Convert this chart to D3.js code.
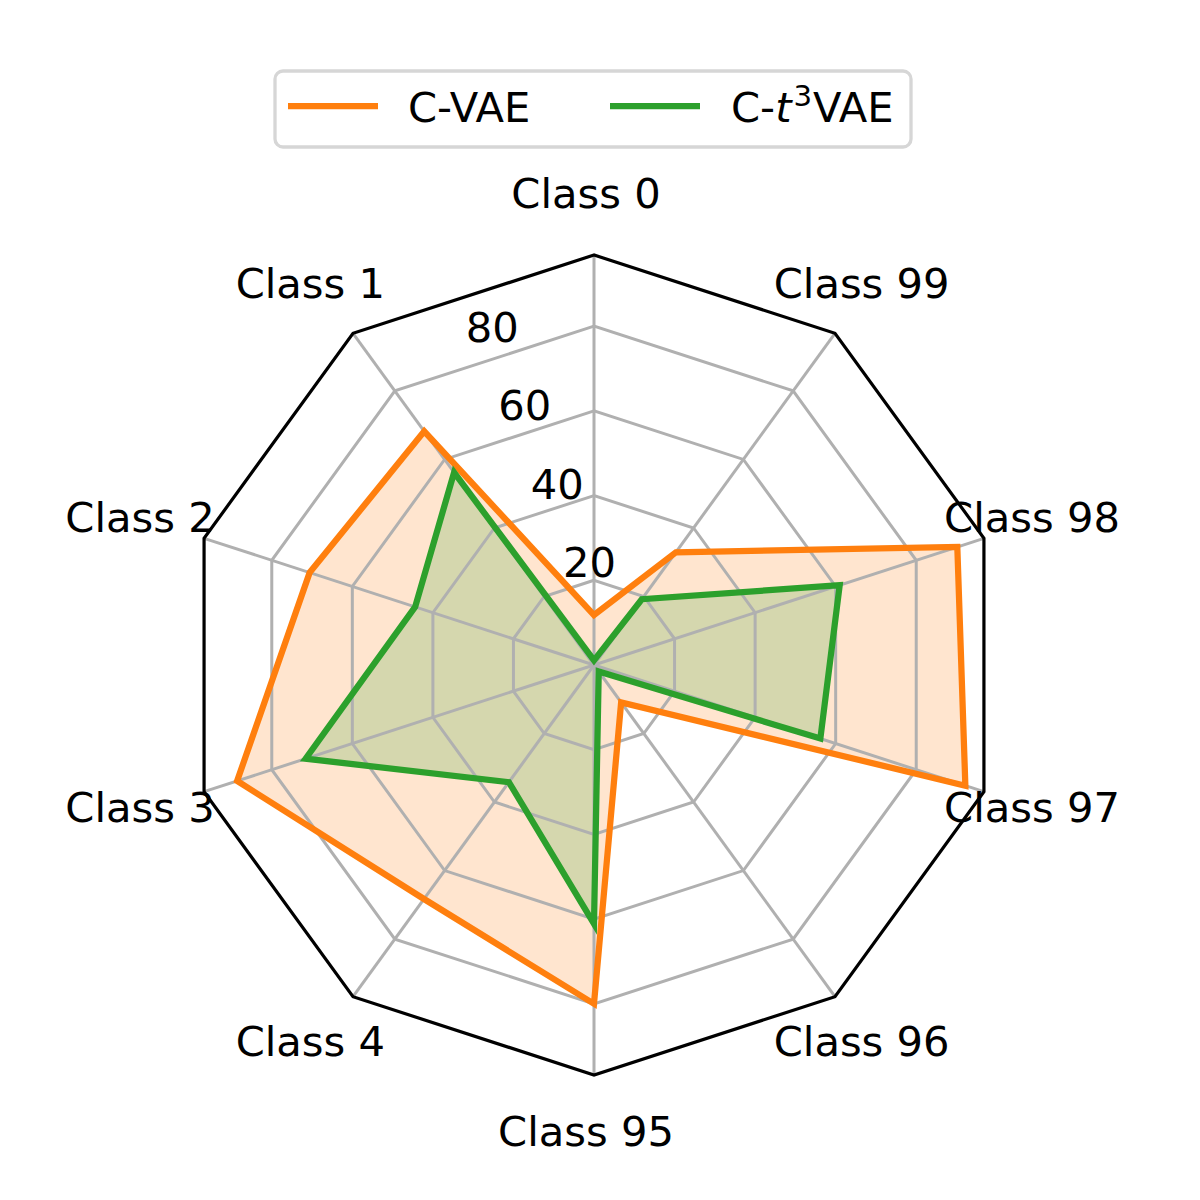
<!DOCTYPE html>
<html>
<head>
<meta charset="utf-8">
<script src="https://cdn.jsdelivr.net/npm/d3@7"></script>
<style>
  html, body { margin: 0; padding: 0; background: #fff; }
  svg { display: block; }
  text { font-family: "DejaVu Sans", sans-serif; fill: #000; }
</style>
</head>
<body>
<svg id="chart" width="1200" height="1200"></svg>
<script>
// ---- data ----
const categories = ["Class 0", "Class 1", "Class 2", "Class 3", "Class 4",
                    "Class 95", "Class 96", "Class 97", "Class 98", "Class 99"];
const cvae   = [11.8, 68.2, 70.6, 88.6, 68.3, 80.0, 10.9, 92.2, 90.2, 32.9];
const ct3vae = [1.1, 56.2, 44.4, 71.6, 34.2, 61.1, 1.9, 56.2, 61.0, 19.2];
const rTicks = [20, 40, 60, 80];
const seriesNames = ["C-VAE", "C-t3VAE"];

// ---- layout ----
const W = 1200, H = 1200;
const cx = 594, cy = 665, R = 410;
const fontSize = 41.67;
const colors = ["#ff7f0e", "#2ca02c"];

const svg = d3.select("#chart");
svg.append("rect").attr("width", W).attr("height", H).attr("fill", "#fff");
const g = svg.append("g").attr("transform", `translate(${cx},${cy})`);

const rMax = d3.max(cvae.concat(ct3vae)) * 1.05;
const r = d3.scaleLinear().domain([0, rMax]).range([0, R]);
const n = categories.length;
const step = 2 * Math.PI / n;
// matplotlib theta counter-clockwise from top -> d3 radial angle (clockwise) is negative
const ang = i => -i * step;

const radial = d3.lineRadial()
  .angle((d, i) => ang(i))
  .radius(d => r(d))
  .curve(d3.curveLinearClosed);

// fills
const series = [cvae, ct3vae];
series.forEach((s, k) => {
  g.append("path").attr("d", radial(s))
    .attr("fill", colors[k]).attr("fill-opacity", 0.2).attr("stroke", "none");
});

// grid rings
rTicks.forEach(t => {
  g.append("path").attr("d", radial(categories.map(() => t)))
    .attr("fill", "none").attr("stroke", "#b0b0b0").attr("stroke-width", 3);
});
// spokes
categories.forEach((c, i) => {
  const a = ang(i);
  g.append("line")
    .attr("x1", 0).attr("y1", 0)
    .attr("x2", r(rMax) * Math.sin(a)).attr("y2", -r(rMax) * Math.cos(a))
    .attr("stroke", "#b0b0b0").attr("stroke-width", 3);
});

// series lines
series.forEach((s, k) => {
  g.append("path").attr("d", radial(s))
    .attr("fill", "none").attr("stroke", colors[k]).attr("stroke-width", 6.25)
    .attr("stroke-linejoin", "miter");
});

// frame
g.append("path").attr("d", radial(categories.map(() => rMax)))
  .attr("fill", "none").attr("stroke", "#000").attr("stroke-width", 3.2)
  .attr("stroke-linejoin", "miter");

// radial tick labels at 22.5 deg CCW from top
const la = -22.5 * Math.PI / 180;
rTicks.forEach(t => {
  const x = r(t) * Math.sin(la), y = -r(t) * Math.cos(la);
  g.append("text").attr("x", x + 1.5).attr("y", y - 10)
    .attr("font-size", fontSize).attr("text-anchor", "start")
    .text(t);
});

// category labels
const labR = 469;
categories.forEach((c, i) => {
  const a = ang(i);
  const x = labR * Math.sin(a) - 8, y = -labR * Math.cos(a);
  g.append("text").attr("x", x).attr("y", y + 12)
    .attr("font-size", fontSize).attr("text-anchor", "middle")
    .text(c);
});

// legend
const lg = svg.append("g");
lg.append("rect").attr("x", 275).attr("y", 71).attr("width", 636).attr("height", 76)
  .attr("rx", 8).attr("ry", 8)
  .attr("fill", "#fff").attr("stroke", "#d6d6d6").attr("stroke-width", 3.3);
const legItems = [
  { x1: 288, x2: 378, tx: 408 },
  { x1: 610, x2: 700, tx: 731 }
];
legItems.forEach((it, k) => {
  lg.append("line").attr("x1", it.x1).attr("x2", it.x2).attr("y1", 106).attr("y2", 106)
    .attr("stroke", colors[k]).attr("stroke-width", 6.25);
});
lg.append("text").attr("x", legItems[0].tx).attr("y", 122).attr("font-size", fontSize)
  .text(seriesNames[0]);
const t2 = lg.append("text").attr("x", legItems[1].tx).attr("y", 122).attr("font-size", fontSize);
t2.append("tspan").text("C-");
t2.append("tspan").attr("font-style", "italic").text("t");
t2.append("tspan").attr("font-size", fontSize * 0.7).attr("dx", 2).attr("dy", -16).text("3");
t2.append("tspan").attr("dx", 1).attr("dy", 16).text("VAE");
</script>
</body>
</html>
